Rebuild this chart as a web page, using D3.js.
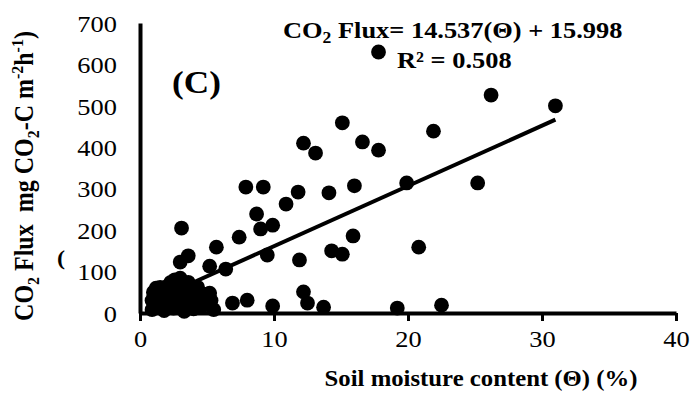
<!DOCTYPE html>
<html><head><meta charset="utf-8">
<script src="https://cdn.jsdelivr.net/npm/d3@7"></script>
<style>html,body{margin:0;padding:0;background:#fff;}svg{display:block;}</style>
</head><body>
<script>
// Soil moisture content (%) and CO2 flux values
const moisture = [17.8, 31.0, 26.2, 21.9, 15.1, 12.2, 13.1, 16.6, 17.8,
  7.9, 9.2, 11.8, 14.1, 16.0, 19.9, 25.2, 10.9, 8.7, 9.0, 9.9, 7.4, 15.9, 3.1,
  5.7, 9.5, 11.9, 14.3, 15.1, 20.8, 3.6, 3.0, 5.2, 6.4, 12.2, 12.5, 13.7, 19.2,
  22.5, 9.9, 8.0, 6.9, 5.2, 5.1,
  0.9, 0.9, 1.0, 1.3, 1.5, 1.6, 1.8, 2.0, 2.1, 2.2, 2.5, 2.6, 2.7, 2.9, 3.0, 3.1,
  3.3, 3.4, 3.6, 3.8, 4.0, 4.1, 4.3, 4.5, 4.7, 4.9, 5.3, 5.5, 2.3, 1.2];
const flux = [630, 500, 526, 439, 459, 410, 386, 413, 393,
  304, 304, 292, 290, 307, 314, 314, 263, 239, 203, 212, 183, 186, 205,
  159, 140, 128, 150, 142, 159, 138, 123, 113, 106, 51, 24, 14, 12,
  19, 17, 31, 24, 48, 22,
  8, 30, 50, 18, 62, 38, 6, 25, 66, 48, 12, 80, 35, 58, 84, 20,
  4, 45, 74, 28, 10, 55, 62, 38, 18, 45, 30, 8, 74, 60];
const xTicks = [0, 10, 20, 30, 40];
const yTicks = [0, 100, 200, 300, 400, 500, 600, 700];
const slope = 14.537;
const intercept = 15.998;
const eqText = ["CO", "2", " Flux= 14.537(\u0398) + 15.998"];
const r2Text = "R\u00B2 = 0.508";
const panelLabel = "(C)";
const xTitle = "Soil moisture content (\u0398) (%)";

const W = 691, H = 399, SX = 1.1;
const FONT = "'Liberation Serif','Times New Roman',serif";

const svg = d3.select("body").append("svg").attr("width", W).attr("height", H)
  .style("font-family", FONT);
svg.append("rect").attr("width", W).attr("height", H).attr("fill", "#fff");

const x = d3.scaleLinear().domain([0, 40]).range([140, 676]);
const y = d3.scaleLinear().domain([0, 700]).range([313, 23]);

// X axis
const xAxis = svg.append("g").attr("transform", `translate(0,${y(0)})`)
  .call(d3.axisBottom(x).tickValues(xTicks).tickSize(8).tickSizeOuter(0).tickFormat(d3.format("d")));
xAxis.select(".domain").attr("stroke", "#000").attr("stroke-width", 4);
xAxis.selectAll(".tick line").attr("stroke", "#000").attr("stroke-width", 3);
xAxis.selectAll(".tick text").attr("y", 34).attr("dy", null)
  .attr("transform", `scale(${SX},1)`)
  .style("font-family", FONT).style("font-size", "24px").attr("fill", "#000");

// Y axis
const yAxis = svg.append("g").attr("transform", `translate(${x(0)},0)`)
  .call(d3.axisLeft(y).tickValues(yTicks).tickSize(0).tickSizeOuter(0).tickFormat(d3.format("d")));
yAxis.select(".domain").attr("stroke", "#000").attr("stroke-width", 4);
yAxis.selectAll(".tick text").attr("x", -21).attr("dy", "0.34em")
  .attr("transform", `scale(${SX},1)`)
  .style("font-family", FONT).style("font-size", "24px").attr("fill", "#000");

// Regression line
const xMin = d3.min(moisture), xMax = d3.max(moisture);
svg.append("line")
  .attr("x1", x(xMin)).attr("y1", y(slope * xMin + intercept))
  .attr("x2", x(xMax)).attr("y2", y(slope * xMax + intercept))
  .attr("stroke", "#000").attr("stroke-width", 4);

// Points
svg.append("g").selectAll("circle").data(moisture.map((m, i) => [m, flux[i]]))
  .join("circle")
  .attr("cx", d => x(d[0])).attr("cy", d => y(d[1])).attr("r", 7.4).attr("fill", "#000");

// Equation
const eq = svg.append("text").attr("transform", `translate(283,38) scale(${SX},1)`)
  .style("font-size", "24px").style("font-weight", "bold").attr("fill", "#000");
eq.append("tspan").text(eqText[0]);
eq.append("tspan").attr("dy", 5).style("font-size", "16px").text(eqText[1]);
eq.append("tspan").attr("dy", -5).text(eqText[2]);
svg.append("text").attr("transform", `translate(397,68) scale(${SX},1)`)
  .style("font-size", "24px").style("font-weight", "bold").attr("fill", "#000").text(r2Text);

// Panel label
svg.append("text").attr("transform", `translate(172,93) scale(${SX},1)`)
  .style("font-size", "32px").style("font-weight", "bold").attr("fill", "#000").text(panelLabel);

// X title
svg.append("text").attr("transform", `translate(481,386) scale(${SX},1)`)
  .attr("text-anchor", "middle")
  .style("font-size", "22.5px").style("font-weight", "bold").attr("fill", "#000").text(xTitle);

// Y title
const yt = svg.append("text").attr("transform", `translate(33,176) scale(${SX},1) rotate(-90)`)
  .attr("text-anchor", "middle").style("white-space", "pre")
  .style("font-size", "24px").style("font-weight", "bold").attr("fill", "#000");
yt.append("tspan").text("CO");
yt.append("tspan").attr("dy", 5).style("font-size", "16px").text("2");
yt.append("tspan").attr("dy", -5).text(" Flux  mg CO");
yt.append("tspan").attr("dy", 5).style("font-size", "16px").text("2");
yt.append("tspan").attr("dy", -5).text("-C m");
yt.append("tspan").attr("dy", -9).style("font-size", "16px").text("-2");
yt.append("tspan").attr("dy", 9).text("h");
yt.append("tspan").attr("dy", -9).style("font-size", "16px").text("-1");
yt.append("tspan").attr("dy", 9).text(")");

svg.append("text").attr("transform", `translate(61,265) scale(${SX},1)`)
  .attr("text-anchor", "middle")
  .style("font-size", "22px").style("font-weight", "bold").attr("fill", "#000").text("(");
</script>
</body></html>
